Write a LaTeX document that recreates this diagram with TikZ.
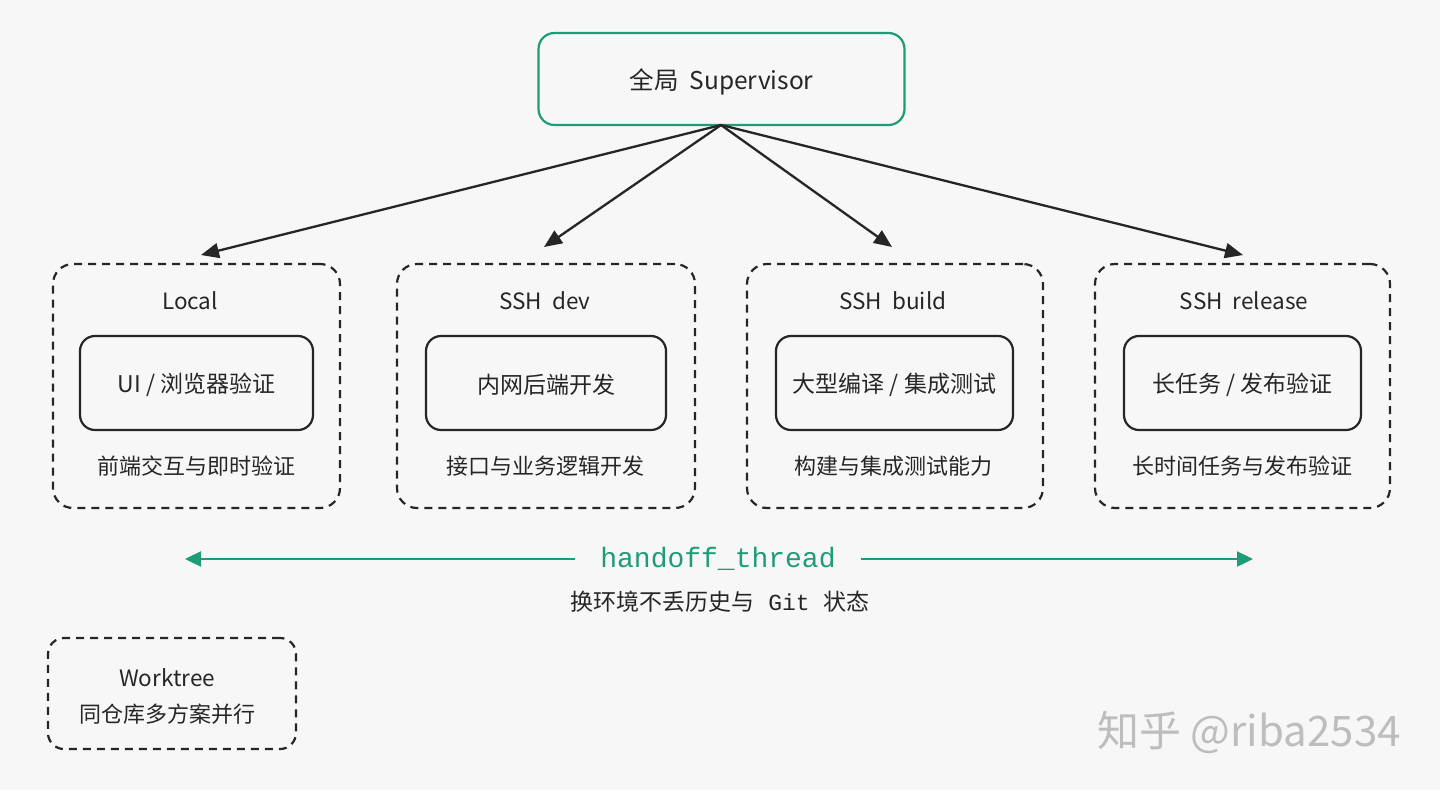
\documentclass[tikz,border=0pt]{standalone}
\usepackage{fontspec}
\setmainfont{Noto Sans CJK SC}
\newfontfamily\monof{Liberation Mono}
\usetikzlibrary{arrows.meta}
\definecolor{gr}{HTML}{1E9C78}
\definecolor{ink}{HTML}{262626}
\definecolor{bgc}{HTML}{F7F7F7}
\definecolor{wm}{HTML}{BDBDBD}
\tikzset{
  supbox/.style={draw=gr, line width=2.2pt, rounded corners=16pt, minimum width=366pt, minimum height=92pt},
  envbox/.style={draw=ink, line width=2.2pt, dash pattern=on 8pt off 6pt, rounded corners=20pt, minimum height=244pt},
  innerbox/.style={draw=ink, line width=2.2pt, rounded corners=15pt, minimum height=94pt, text=ink, font=\fontsize{23}{27}\selectfont},
  ttl/.style={text=ink, font=\fontsize{22.5}{26}\selectfont},
  sub/.style={text=ink, font=\fontsize{22}{26}\selectfont},
  conn/.style={draw=ink, line width=2.3pt, -{Triangle[length=18pt,width=15pt]}},
  hconn/.style={draw=gr, line width=2.4pt, -{Triangle[length=16pt,width=15pt]}},
}
\begin{document}
\begin{tikzpicture}[x=1pt,y=-1pt]
\fill[bgc] (0,0) rectangle (1440,790);
\useasboundingbox (0,0) rectangle (1440,790);

\node[supbox] (sup) at (721.5,79) {};
\node[text=ink, font=\fontsize{24.5}{28}\selectfont] (supt) at (721.5,82) {全局\ \ Supervisor};

% environment boxes
\node[envbox, minimum width=287pt] (local) at (196.5,386) {};
\node[envbox, minimum width=298pt] (dev) at (546,386) {};
\node[envbox, minimum width=296pt] (build) at (895,386) {};
\node[envbox, minimum width=295pt] (rel) at (1242.5,386) {};

\node[ttl] (tlocal) at (190,301) {Local};
\node[ttl] (tdev) at (545,301) {SSH\ \ dev};
\node[ttl] (tbuild) at (893,301) {SSH\ \ build};
\node[ttl] (trel) at (1244,301) {SSH\ \ release};

\node[innerbox, minimum width=233pt] (ilocal) at (196.5,383) {};
\node[innerbox, minimum width=240pt] (idev) at (546,383) {};
\node[innerbox, minimum width=237pt] (ibuild) at (894.5,383) {};
\node[innerbox, minimum width=237pt] (irel) at (1242.5,383) {};
\node[text=ink, font=\fontsize{23}{27}\selectfont] (xlocal) at (196.5,385) {UI / 浏览器验证};
\node[text=ink, font=\fontsize{23}{27}\selectfont] (xdev) at (546,385) {内网后端开发};
\node[text=ink, font=\fontsize{23}{27}\selectfont] (xbuild) at (894.5,385) {大型编译 / 集成测试};
\node[text=ink, font=\fontsize{23}{27}\selectfont] (xrel) at (1242.5,385) {长任务 / 发布验证};

\node[sub] (slocal) at (196,466) {前端交互与即时验证};
\node[sub] (sdev) at (545,466) {接口与业务逻辑开发};
\node[sub] (sbuild) at (893,466) {构建与集成测试能力};
\node[sub] (srel) at (1242,466) {长时间任务与发布验证};

% connectors
\coordinate (tip1) at (201,255);
\coordinate (tip2) at (544,247);
\coordinate (tip3) at (892,247);
\coordinate (tip4) at (1243,255);
\coordinate (src) at (721,125);
\draw[conn] (src) -- (tip1);
\draw[conn] (src) -- (tip2);
\draw[conn] (src) -- (tip3);
\draw[conn] (src) -- (tip4);

% handoff
\node[text=gr, font=\monof\fontsize{28}{30}\selectfont, inner xsep=25pt] (hand) at (718,559) {handoff\_thread};
\coordinate (hl) at (185,559);
\coordinate (hr) at (1253,559);
\draw[hconn] (hand.west) -- (hl);
\draw[hconn] (hand.east) -- (hr);
\node[text=ink, font=\fontsize{23}{26}\selectfont] (hsub) at (720,602) {换环境不丢历史与{\monof\ Git\ }状态};

% worktree
\node[envbox, minimum width=248pt, minimum height=111pt, rounded corners=16pt] (wt) at (172,693.5) {};
\node[ttl] (wtt) at (167,678) {Worktree};
\node[sub] (wts) at (167,714) {同仓库多方案并行};

% watermark
\node[text=wm, font=\fontsize{42}{46}\selectfont] (wmk) at (1249,732) {知乎 @riba2534};
\end{tikzpicture}
\end{document}
